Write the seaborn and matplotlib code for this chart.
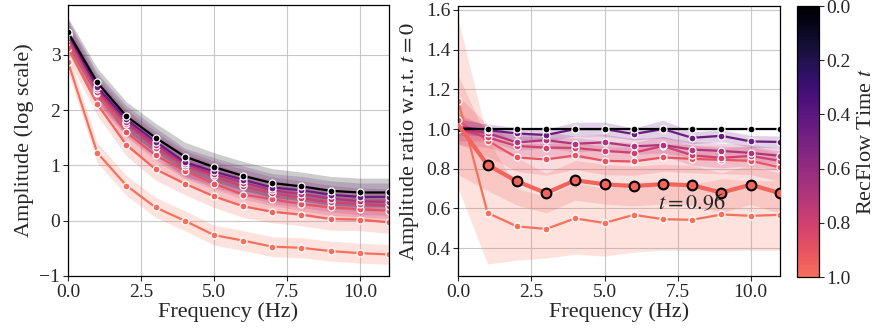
import numpy as np
import pandas as pd
import matplotlib
matplotlib.use("Agg")
import matplotlib.pyplot as plt
import seaborn as sns
from matplotlib.colors import ListedColormap, Normalize
from matplotlib.cm import ScalarMappable

# ---------------- data ----------------
freq = list(range(12))
times = [0.0, 0.45, 0.7, 0.8, 0.9, 0.96, 1.0]
highlight_t = 0.96

# left panel: log amplitude
amp_t000 = [3.41, 2.50, 1.89, 1.50, 1.16, 0.97, 0.81, 0.68, 0.62, 0.54, 0.51, 0.51]
amp_t045 = [3.38, 2.42, 1.83, 1.43, 1.06, 0.89, 0.74, 0.60, 0.55, 0.47, 0.43, 0.43]
amp_t070 = [3.35, 2.38, 1.78, 1.37, 1.03, 0.84, 0.69, 0.55, 0.48, 0.40, 0.35, 0.34]
amp_t080 = [3.30, 2.33, 1.75, 1.32, 0.99, 0.80, 0.62, 0.50, 0.41, 0.33, 0.30, 0.27]
amp_t090 = [3.25, 2.31, 1.60, 1.18, 0.90, 0.67, 0.47, 0.39, 0.30, 0.24, 0.21, 0.18]
amp_t096 = [3.12, 2.11, 1.37, 0.93, 0.67, 0.44, 0.26, 0.16, 0.11, 0.03, 0.02, -0.03]
amp_t100 = [2.87, 1.23, 0.635, 0.24, 0.00, -0.26, -0.36, -0.47, -0.49, -0.55, -0.587, -0.61]
amp_band = [0.26, 0.25, 0.24, 0.23, 0.22, 0.20, 0.18]

# right panel: amplitude ratio w.r.t. t = 0
ratio_t000 = [1.0] * 12
ratio_t045 = [1.01, 0.995, 0.978, 0.97, 1.0, 1.0, 0.975, 1.0, 0.956, 0.966, 0.938, 0.935]
ratio_t070 = [1.0, 0.98, 0.933, 0.944, 0.926, 0.933, 0.913, 0.92, 0.897, 0.89, 0.88, 0.865]
ratio_t080 = [1.0, 0.958, 0.915, 0.907, 0.905, 0.89, 0.881, 0.915, 0.868, 0.855, 0.865, 0.84]
ratio_t090 = [1.045, 0.942, 0.857, 0.847, 0.867, 0.84, 0.837, 0.857, 0.85, 0.845, 0.84, 0.807]
ratio_t096 = [1.02, 0.82, 0.737, 0.678, 0.742, 0.722, 0.713, 0.723, 0.717, 0.68, 0.72, 0.677]
ratio_t100 = [1.14, 0.578, 0.51, 0.497, 0.55, 0.527, 0.568, 0.546, 0.543, 0.57, 0.563, 0.568]

ratio_band_t000 = [0.0] * 12
ratio_band_t045 = [0.04, 0.03, 0.03, 0.03, 0.035, 0.035, 0.03, 0.045, 0.03, 0.03, 0.03, 0.03]
ratio_band_t070 = [0.06, 0.04, 0.04, 0.04, 0.04, 0.04, 0.04, 0.04, 0.04, 0.04, 0.04, 0.04]
ratio_band_t080 = [0.08, 0.05, 0.05, 0.05, 0.05, 0.05, 0.05, 0.05, 0.05, 0.05, 0.05, 0.05]
ratio_band_t090 = [0.12, 0.08, 0.07, 0.08, 0.07, 0.07, 0.07, 0.07, 0.07, 0.07, 0.07, 0.07]
ratio_band_t096 = [0.25, 0.13, 0.12, 0.10, 0.10, 0.10, 0.10, 0.10, 0.10, 0.10, 0.10, 0.10]
ratio_lo_t100 = [0.70, 0.32, 0.34, 0.35, 0.37, 0.36, 0.38, 0.39, 0.39, 0.39, 0.39, 0.39]
ratio_hi_t100 = [1.55, 0.95, 0.70, 0.66, 0.73, 0.70, 0.74, 0.72, 0.72, 0.75, 0.74, 0.74]

# ---------------- style ----------------
sns.set_style("whitegrid", {
    "axes.edgecolor": "black",
    "grid.color": "#c8c8c8",
    "xtick.bottom": True,
    "ytick.left": True,
})
plt.rcParams["font.family"] = ["Liberation Serif", "DejaVu Serif"]
plt.rcParams["mathtext.fontset"] = "stix"
plt.rcParams["axes.linewidth"] = 0.9
plt.rcParams["xtick.major.size"] = 3.5
plt.rcParams["ytick.major.size"] = 3.5
plt.rcParams["xtick.major.width"] = 0.8
plt.rcParams["ytick.major.width"] = 0.8

base = sns.color_palette("magma", as_cmap=True)
cmap = ListedColormap(base(np.linspace(0.0, 0.7, 256)))
norm = Normalize(0.0, 1.0)
palette = {t: cmap(norm(t)) for t in times}

fig = plt.figure(figsize=(8.81, 3.31), dpi=100)
axL = fig.add_axes([0.0772, 0.1662, 0.3644, 0.8187])
axR = fig.add_axes([0.5202, 0.1662, 0.3651, 0.8157])
cax = fig.add_axes([0.9047, 0.163, 0.025, 0.8187])


def long_df(series):
    rows = []
    for t, vals in zip(times, series):
        for f, v in zip(freq, vals):
            rows.append({"freq": f, "val": v, "t": t})
    return pd.DataFrame(rows)


# ---------- left panel ----------
amp_series = [amp_t000, amp_t045, amp_t070, amp_t080, amp_t090, amp_t096, amp_t100]
for t, vals, hw in reversed(list(zip(times, amp_series, amp_band))):
    v = np.array(vals)
    axL.fill_between(freq, v - hw, v + hw, color=palette[t], alpha=0.2, lw=0)
sns.lineplot(data=long_df(amp_series), x="freq", y="val", hue="t",
             hue_order=list(reversed(times)), palette=palette, marker="o",
             markersize=5, markeredgecolor="white", markeredgewidth=0.9,
             linewidth=1.6, legend=False, ax=axL)
axL.set_xlim(0, 11)
axL.set_ylim(-1, 3.9)
axL.set_xticks([0, 2.5, 5, 7.5, 10])
axL.set_yticks([-1, 0, 1, 2, 3])
axL.set_xlabel("Frequency (Hz)", fontsize=16, labelpad=1)
axL.set_ylabel("Amplitude (log scale)", fontsize=16, labelpad=4)
axL.tick_params(labelsize=14, pad=2)

# ---------- right panel ----------
ratio_series = [ratio_t000, ratio_t045, ratio_t070, ratio_t080, ratio_t090, ratio_t096, ratio_t100]
ratio_bands = [ratio_band_t000, ratio_band_t045, ratio_band_t070, ratio_band_t080,
               ratio_band_t090, ratio_band_t096]
axR.fill_between(freq, ratio_lo_t100, ratio_hi_t100, color=palette[1.0], alpha=0.2, lw=0)
for t, vals, hw in reversed(list(zip(times[:-1], ratio_series[:-1], ratio_bands))):
    v = np.array(vals)
    h = np.array(hw)
    if h.max() > 0:
        axR.fill_between(freq, v - h, v + h, color=palette[t], alpha=0.2, lw=0)

df_r = long_df(ratio_series)
sns.lineplot(data=df_r[df_r.t != highlight_t], x="freq", y="val", hue="t",
             hue_order=[t for t in reversed(times) if t != highlight_t],
             palette=palette, marker="o", markersize=5, markeredgecolor="white",
             markeredgewidth=0.9, linewidth=1.6, legend=False, ax=axR)
sns.lineplot(data=df_r[df_r.t == highlight_t], x="freq", y="val",
             color=palette[highlight_t], marker="o", markersize=7,
             markeredgecolor="black", markeredgewidth=1.5, linewidth=3,
             markevery=list(range(1, len(freq))),
             legend=False, ax=axR, zorder=5)
axR.text(7.98, 0.625, "$t = 0.96$", ha="center", va="center", fontsize=16, zorder=6)
axR.set_xlim(0, 11)
axR.set_ylim(0.26, 1.62)
axR.set_xticks([0, 2.5, 5, 7.5, 10])
axR.set_yticks([0.4, 0.6, 0.8, 1.0, 1.2, 1.4, 1.6])
axR.set_xlabel("Frequency (Hz)", fontsize=16, labelpad=1)
axR.set_ylabel("Amplitude ratio w.r.t. $t = 0$", fontsize=16, labelpad=4)
axR.tick_params(labelsize=14, pad=2)

# ---------- colorbar ----------
sm = ScalarMappable(norm=norm, cmap=cmap)
cb = fig.colorbar(sm, cax=cax)
cb.set_ticks([0.0, 0.2, 0.4, 0.6, 0.8, 1.0])
cb.set_ticklabels(["0.0", "0.2", "0.4", "0.6", "0.8", "1.0"])
cax.invert_yaxis()
cb.outline.set_edgecolor("black")
cb.outline.set_linewidth(0.9)
cax.tick_params(labelsize=14, pad=2, length=3.5, width=0.8)
cb.set_label("RecFlow Time $t$", fontsize=16, labelpad=4)

fig.savefig("out.png", dpi=100)
